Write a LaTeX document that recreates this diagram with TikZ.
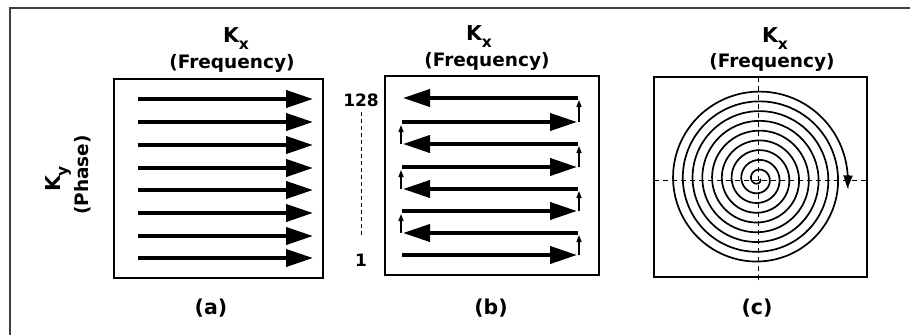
\documentclass[tikz,border=0pt]{standalone}
\usepackage{fontspec}
\setmainfont{DejaVu Sans}
\usetikzlibrary{arrows.meta}
\newcommand{\ttlsize}{\fontsize{18.5}{22}\selectfont\bfseries}
\newcommand{\bigk}{{\fontsize{20.5}{22}\selectfont K}}
\newcommand{\lowsub}[1]{\raisebox{-7.5pt}{\fontsize{15.5}{15}\selectfont #1}}

\begin{document}
\begin{tikzpicture}[x=1pt, y=-1pt,
  panel/.style={draw, line width=1.6pt, inner sep=0pt, outer sep=0pt, anchor=north west},
  ttl/.style={font=\ttlsize, anchor=base, inner sep=0pt},
  tag/.style={font=\fontsize{20.5}{24}\selectfont\bfseries, anchor=base, inner sep=0pt},
  num/.style={font=\fontsize{17}{18}\selectfont\bfseries, anchor=base, inner sep=0pt},
  scan/.style={line width=4pt, -{Triangle[length=27pt, width=17pt]}},
  hop/.style={line width=1.3pt, -{Triangle[length=7pt, width=5pt]}},
  guide/.style={line width=1pt, dash pattern=on 4pt off 3pt},
  axis/.style={line width=1pt, dash pattern=on 5pt off 4pt},
  coil/.style={line width=1.7pt, -{Triangle[length=13pt, width=9pt]}}
]
\useasboundingbox (0,0) rectangle (910,335);
\draw[line width=1.2pt, black!75] (910,8) -- (10,8) -- (10,335);

\node[ttl, rotate=90] (ky) at (60,179) {\bigk\lowsub{y}};
\node[ttl, rotate=90] (phase) at (88,175) {(Phase)};

% (a)
\node[panel, minimum width=209pt, minimum height=199pt] (boxa) at (114,79) {};
\node[ttl] (kxa) at (236,42) {\bigk\lowsub{x}};
\node[ttl] (freqa) at (232,68) {(Frequency)};
\foreach \ry in {99,122,145,168,190,213,236,258}
  \draw[scan] (138,\ry) -- (313,\ry);
\node[tag] (taga) at (211,314) {(a)};

% (b)
\node[panel, minimum width=214pt, minimum height=199pt] (boxb) at (385,76) {};
\node[ttl] (kxb) at (479,40) {\bigk\lowsub{x}};
\node[ttl] (freqb) at (487,66) {(Frequency)};
\node[num] (top) at (361,106) {128};
\node[num] (bot) at (361,266) {1};
\draw[guide, shorten <=6pt, shorten >=17pt] (top.south) -- (bot.north);
\foreach \ry/\rn in {98/122, 144/167, 189/211, 233/255} {
  \draw[scan] (578,\ry) -- (403,\ry);
  \draw[scan] (402,\rn) -- (577,\rn);
  \draw[hop] (579,\rn) -- (579,\ry+2);
}
\foreach \ra/\rb in {122/144, 167/189, 211/233}
  \draw[hop] (401,\rb) -- (401,\ra+3);
\node[tag] (tagb) at (491,314) {(b)};

% (c)
\node[panel, minimum width=213pt, minimum height=200pt] (boxc) at (654,77) {};
\node[ttl] (kxc) at (775,42) {\bigk\lowsub{x}};
\node[ttl] (freqc) at (772,67) {(Frequency)};
\draw[axis] (758,77) -- (758,284);
\draw[axis] (654,180) -- (867,180);
\draw[coil, shift={(758,179)}] plot[domain=0:3246, samples=361, smooth, variable=\t]
  (\t:{2+0.02711*\t});
\node[tag] (tagc) at (757,314) {(c)};
\end{tikzpicture}
\end{document}
